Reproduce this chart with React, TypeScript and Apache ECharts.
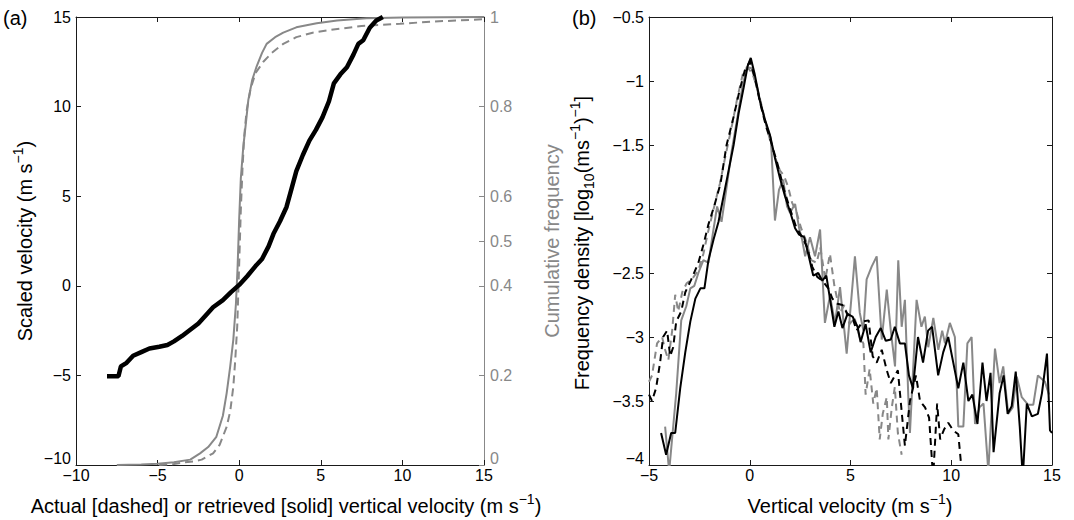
import React, { useEffect, useRef } from "react";
import * as echarts from "echarts";

// ---------- Panel (a) ----------
const aXTicks = [-10, -5, 0, 5, 10, 15];
const aLeftMin = -10;
const aLeftMax = 15;
const aRightTicks = [0, 0.2, 0.4, 0.5, 0.6, 0.8, 1];

// scaled velocity vs actual velocity (black, left axis)
const aScaled: [number, number][] = [
  [-8.1, -5.05], [-7.4, -5.05], [-7.25, -4.5], [-6.9, -4.3], [-6.5, -3.9], [-6.0, -3.7],
  [-5.5, -3.5], [-4.9, -3.4], [-4.4, -3.3], [-4.0, -3.1], [-3.5, -2.8], [-3.0, -2.45],
  [-2.5, -2.1], [-2.0, -1.6], [-1.6, -1.2], [-1.0, -0.8], [-0.5, -0.35], [0.0, 0.05],
  [0.5, 0.55], [1.0, 1.1], [1.4, 1.5], [1.8, 2.2], [2.1, 2.9], [2.5, 3.6], [2.9, 4.4],
  [3.2, 5.4], [3.5, 6.4], [3.9, 7.3], [4.3, 8.1], [4.7, 8.7], [5.1, 9.4], [5.5, 10.3],
  [5.8, 11.3], [6.2, 11.8], [6.6, 12.2], [7.0, 12.9], [7.3, 13.5], [7.6, 13.7],
  [8.0, 14.4], [8.4, 14.8], [8.8, 15.0],
];

// cumulative frequency, retrieved (gray solid, right axis)
const aCdfRetrieved: [number, number][] = [
  [-7.5, 0], [-6, 0.001], [-5, 0.003], [-4, 0.006], [-3, 0.012], [-2.4, 0.026],
  [-1.9, 0.04], [-1.4, 0.063], [-1.0, 0.11], [-0.77, 0.16], [-0.55, 0.22], [-0.36, 0.28],
  [-0.2, 0.36], [-0.1, 0.44], [0.0, 0.55], [0.1, 0.64], [0.25, 0.71], [0.4, 0.76],
  [0.56, 0.815], [0.8, 0.86], [1.07, 0.89], [1.4, 0.92], [1.68, 0.94], [2.2, 0.955],
  [2.7, 0.965], [3.5, 0.977], [4.75, 0.986], [6, 0.992], [7.8, 0.997], [10, 0.999], [15, 1.0],
];

// cumulative frequency, actual (gray dashed, right axis)
const aCdfActual: [number, number][] = [
  [-4.9, 0], [-4, 0.002], [-3.4, 0.006], [-2.8, 0.008], [-2.3, 0.012], [-1.6, 0.026],
  [-1.2, 0.045], [-0.77, 0.085], [-0.55, 0.12], [-0.36, 0.175], [-0.25, 0.23], [-0.12, 0.31],
  [0.0, 0.45], [0.1, 0.57], [0.2, 0.66], [0.3, 0.73], [0.45, 0.79], [0.7, 0.84], [1.0, 0.875],
  [1.48, 0.9], [2.0, 0.92], [2.7, 0.94], [3.5, 0.955], [4.5, 0.965], [5.77, 0.972],
  [7.5, 0.98], [9.85, 0.985], [12, 0.99], [15, 0.995],
];

// ---------- Panel (b) ----------
const bXTicks = [-5, 0, 5, 10, 15];
const bYMin = -4;
const bYMax = -0.5;

const bBlackSolid: [number, number][] = [
  [-4.4, -3.75], [-4.15, -3.92], [-3.9, -3.75], [-3.7, -3.75], [-3.45, -3.4], [-3.2, -3.12],
  [-2.95, -2.88], [-2.7, -2.7], [-2.45, -2.62], [-2.25, -2.62], [-2.05, -2.4], [-1.8, -2.24],
  [-1.55, -2.1], [-1.3, -1.9], [-1.05, -1.7], [-0.8, -1.5], [-0.55, -1.25], [-0.3, -1.05],
  [-0.1, -0.88], [0.05, -0.82], [0.25, -0.95], [0.5, -1.15], [0.75, -1.3], [1.0, -1.42],
  [1.25, -1.6], [1.5, -1.76], [1.75, -1.9], [2.0, -2.02], [2.25, -2.15], [2.45, -2.2],
  [2.7, -2.22], [2.9, -2.35], [3.15, -2.52], [3.4, -2.5], [3.6, -2.56], [3.8, -2.52],
  [4.0, -2.72], [4.2, -2.92], [4.4, -2.8], [4.6, -2.93], [4.85, -2.82], [5.1, -2.84],
  [5.35, -2.92], [5.5, -3.04], [5.75, -2.9], [6.0, -3.12], [6.25, -3.0], [6.5, -2.93],
  [6.75, -3.03], [7.0, -3.02], [7.2, -2.92], [7.45, -3.05], [7.7, -3.05], [7.9, -3.3],
  [8.1, -3.4], [8.35, -3.0], [8.6, -3.2], [8.85, -2.95], [9.05, -2.92], [9.35, -3.3],
  [9.6, -3.12], [9.85, -3.0], [10.1, -3.2], [10.35, -3.4], [10.6, -3.2], [10.85, -3.5],
  [11.05, -3.45], [11.3, -3.68], [11.55, -3.2], [11.75, -3.5], [11.95, -3.28], [12.1, -3.9],
  [12.4, -3.44], [12.6, -3.3], [12.8, -3.6], [13.0, -3.54], [13.2, -3.27], [13.4, -3.7],
  [13.55, -4.1], [13.75, -3.52], [14.0, -3.62], [14.3, -3.6], [14.5, -3.44], [14.75, -3.13],
  [14.9, -3.73], [15.0, -3.75],
];

const bBlackDashed: [number, number][] = [
  [-5, -3.45], [-4.85, -3.5], [-4.65, -3.4], [-4.45, -3.2], [-4.3, -3.0], [-4.1, -2.95],
  [-3.95, -3.15], [-3.8, -3.08], [-3.65, -2.88], [-3.4, -2.8], [-3.2, -2.65], [-2.9, -2.55],
  [-2.55, -2.42], [-2.3, -2.28], [-2.05, -2.12], [-1.75, -1.97], [-1.45, -1.8], [-1.15, -1.5],
  [-0.8, -1.28], [-0.5, -1.07], [-0.25, -0.92], [0.0, -0.85], [0.25, -0.97], [0.5, -1.16],
  [0.8, -1.35], [1.1, -1.5], [1.4, -1.66], [1.7, -1.85], [2.0, -2.0], [2.3, -2.14],
  [2.6, -2.22], [2.85, -2.3], [3.1, -2.45], [3.35, -2.53], [3.6, -2.56], [3.9, -2.62],
  [4.1, -2.7], [4.35, -2.74], [4.6, -2.75], [4.85, -2.82], [5.1, -2.85], [5.3, -2.95],
  [5.6, -2.88], [5.9, -2.87], [6.1, -3.15], [6.3, -3.2], [6.55, -3.1], [6.8, -3.26],
  [7.0, -3.36], [7.35, -3.26], [7.55, -3.6], [7.7, -3.85], [7.95, -3.5], [8.25, -3.3],
  [8.45, -3.5], [8.7, -3.55], [8.9, -3.63], [9.1, -4.1], [9.3, -3.52], [9.45, -3.8],
  [9.65, -3.72], [9.85, -3.67], [10.1, -3.73], [10.35, -3.76], [10.55, -4.1],
];

const bGraySolid: [number, number][] = [
  [-4.2, -3.7], [-4.0, -4.05], [-3.65, -3.44], [-3.4, -2.87], [-3.15, -2.76], [-2.95, -2.62],
  [-2.75, -2.6], [-2.55, -2.5], [-2.3, -2.4], [-2.05, -2.42], [-1.8, -2.16], [-1.62, -1.98],
  [-1.4, -2.1], [-1.15, -1.83], [-0.9, -1.55], [-0.65, -1.32], [-0.4, -1.08], [-0.15, -0.89],
  [0.1, -0.9], [0.35, -1.05], [0.6, -1.22], [0.85, -1.36], [1.05, -1.45], [1.25, -2.09],
  [1.45, -1.85], [1.66, -1.77], [1.85, -1.98], [2.0, -2.03], [2.25, -1.96], [2.45, -2.15],
  [2.6, -2.24], [2.75, -2.37], [2.99, -2.22], [3.24, -2.37], [3.49, -2.16], [3.73, -2.89],
  [3.98, -2.68], [4.23, -2.89], [4.48, -2.61], [4.81, -3.13], [5.22, -2.37], [5.46, -2.81],
  [5.64, -2.95], [5.8, -2.55], [6.05, -2.45], [6.3, -2.37], [6.55, -3.02], [6.8, -2.63],
  [7.0, -2.95], [7.21, -3.23], [7.37, -2.4], [7.54, -2.92], [7.7, -2.71], [7.87, -3.47],
  [7.95, -3.75], [8.28, -2.71], [8.52, -2.92], [8.69, -2.84], [8.86, -3.08], [9.11, -2.85],
  [9.36, -3.1], [9.55, -2.95], [9.69, -3.05], [9.93, -2.89], [10.18, -3.0], [10.35, -3.7],
  [10.6, -3.7], [10.8, -3.05], [11.01, -3.0], [11.18, -3.68], [11.4, -3.55], [11.6, -3.52],
  [11.84, -4.05], [12.17, -3.09], [12.4, -3.36], [12.58, -3.23], [12.83, -3.6], [13.05, -3.55],
  [13.25, -3.31], [13.5, -3.47], [13.82, -3.53], [14.07, -3.53], [14.3, -3.3], [14.65, -3.35],
  [14.85, -3.45],
];

const bGrayDashed: [number, number][] = [
  [-5, -3.35], [-4.85, -3.3], [-4.6, -3.05], [-4.35, -3.0], [-4.2, -3.1], [-4.04, -3.18],
  [-3.85, -2.95], [-3.7, -2.67], [-3.55, -2.8], [-3.35, -2.65], [-3.13, -2.58], [-2.88, -2.55],
  [-2.55, -2.48], [-2.3, -2.35], [-2.1, -2.2], [-1.81, -2.01], [-1.48, -1.8], [-1.2, -1.58],
  [-0.9, -1.36], [-0.6, -1.12], [-0.32, -0.93], [-0.07, -0.9], [0.15, -0.95], [0.35, -1.04],
  [0.6, -1.2], [0.84, -1.36], [1.17, -1.56], [1.5, -1.7], [1.7, -1.74], [1.91, -1.83],
  [2.1, -1.95], [2.33, -2.03], [2.55, -2.15], [2.8, -2.25], [3.05, -2.4], [3.32, -2.42],
  [3.5, -2.3], [3.75, -2.55], [3.98, -2.35], [4.2, -2.6], [4.48, -2.81], [4.7, -2.75],
  [4.95, -2.9], [5.2, -2.85], [5.45, -3.0], [5.64, -3.05], [5.75, -3.45], [5.95, -3.25],
  [6.13, -3.52], [6.3, -3.4], [6.45, -3.8], [6.6, -3.6], [6.8, -3.47], [6.88, -3.8],
  [7.05, -3.55], [7.2, -3.39], [7.35, -3.75], [7.54, -3.92],
];

const FONT = "'Liberation Sans', Arial, Helvetica, sans-serif";
const AXIS_COLOR = "#1a1a1a";
const GRAY = "#888888";
const TITLE_SIZE = 20;
const TICK_SIZE = 16;
const minus = (v: number) => String(v).replace("-", "\u2212");

const rich = {
  sup: { fontSize: 14, verticalAlign: "top" as const, fontFamily: FONT, lineHeight: 28 },
  sub: { fontSize: 14, verticalAlign: "bottom" as const, fontFamily: FONT, lineHeight: 28 },
};

function xAxisDef(gridIndex: number, min: number, max: number, position: "top" | "bottom", showLabel: boolean) {
  return {
    type: "value" as const,
    gridIndex,
    min,
    max,
    interval: 5,
    position,
    axisLine: { show: true, onZero: false, lineStyle: { color: AXIS_COLOR, width: 1 } },
    axisTick: { show: true, inside: true, length: 5, lineStyle: { color: AXIS_COLOR } },
    axisLabel: {
      show: showLabel,
      formatter: minus,
      color: "#000",
      fontSize: TICK_SIZE,
      fontFamily: FONT,
      margin: 2,
    },
    splitLine: { show: false },
  };
}

function titleText(x: number, y: number, text: string, rotate: boolean, fill = "#000") {
  return {
    type: "text",
    x,
    y,
    rotation: rotate ? Math.PI / 2 : 0,
    style: {
      text,
      rich,
      fontSize: TITLE_SIZE,
      lineHeight: 28,
      fontFamily: FONT,
      fill,
      align: "center",
      verticalAlign: "middle",
    },
  };
}

// bottom-most y tick labels, lifted slightly so they clear the x tick labels
function minLabel(x: number, y: number, text: string, align: "left" | "right", fill = "#000") {
  return {
    type: "text",
    x,
    y,
    style: { text, fontSize: TICK_SIZE, fontFamily: FONT, fill, align, verticalAlign: "bottom" },
  };
}

export default function App() {
  const ref = useRef<HTMLDivElement>(null);
  useEffect(() => {
    if (!ref.current) return;
    const chart = echarts.init(ref.current, undefined, { renderer: "svg" });
    const option: any = {
      animation: false,
      backgroundColor: "#ffffff",
      grid: [
        { left: 76, top: 17, width: 408, height: 448 },
        { left: 649, top: 17, width: 403, height: 448 },
      ],
      xAxis: [
        xAxisDef(0, aXTicks[0], aXTicks[aXTicks.length - 1], "bottom", true),
        xAxisDef(0, aXTicks[0], aXTicks[aXTicks.length - 1], "top", false),
        xAxisDef(1, bXTicks[0], bXTicks[bXTicks.length - 1], "bottom", true),
        xAxisDef(1, bXTicks[0], bXTicks[bXTicks.length - 1], "top", false),
      ],
      yAxis: [
        {
          type: "value",
          gridIndex: 0,
          min: aLeftMin,
          max: aLeftMax,
          interval: 5,
          position: "left",
          axisLine: { show: true, onZero: false, lineStyle: { color: AXIS_COLOR } },
          axisTick: { show: true, inside: true, length: 5, lineStyle: { color: AXIS_COLOR } },
          axisLabel: {
            formatter: minus,
            showMinLabel: false,
            color: "#000",
            fontSize: TICK_SIZE,
            fontFamily: FONT,
            margin: 5,
          },
          splitLine: { show: false },
        },
        {
          type: "value",
          gridIndex: 0,
          min: 0,
          max: 1,
          interval: 0.1,
          position: "right",
          axisLine: { show: true, onZero: false, lineStyle: { color: GRAY } },
          axisTick: {
            show: true,
            inside: true,
            length: 5,
            lineStyle: { color: GRAY },
            customValues: aRightTicks,
          },
          axisLabel: {
            customValues: aRightTicks.slice(1),
            formatter: (v: number) => String(v),
            color: GRAY,
            fontSize: TICK_SIZE,
            fontFamily: FONT,
            margin: 6,
          },
          splitLine: { show: false },
        },
        {
          type: "value",
          gridIndex: 1,
          min: bYMin,
          max: bYMax,
          interval: 0.5,
          position: "left",
          axisLine: { show: true, onZero: false, lineStyle: { color: AXIS_COLOR } },
          axisTick: { show: true, inside: true, length: 5, lineStyle: { color: AXIS_COLOR } },
          axisLabel: {
            formatter: minus,
            showMinLabel: false,
            color: "#000",
            fontSize: TICK_SIZE,
            fontFamily: FONT,
            margin: 5,
          },
          splitLine: { show: false },
        },
        {
          type: "value",
          gridIndex: 1,
          min: bYMin,
          max: bYMax,
          interval: 0.5,
          position: "right",
          axisLine: { show: true, onZero: false, lineStyle: { color: AXIS_COLOR } },
          axisTick: { show: true, inside: true, length: 5, lineStyle: { color: AXIS_COLOR } },
          axisLabel: { show: false },
          splitLine: { show: false },
        },
      ],
      series: [
        {
          type: "line",
          name: "CDF actual",
          xAxisIndex: 0,
          yAxisIndex: 1,
          data: aCdfActual,
          showSymbol: false,
          lineStyle: { color: GRAY, width: 2, type: [8, 5] },
        },
        {
          type: "line",
          name: "CDF retrieved",
          xAxisIndex: 0,
          yAxisIndex: 1,
          data: aCdfRetrieved,
          showSymbol: false,
          lineStyle: { color: GRAY, width: 2 },
        },
        {
          type: "line",
          name: "Scaled velocity",
          xAxisIndex: 0,
          yAxisIndex: 0,
          data: aScaled,
          showSymbol: false,
          lineStyle: { color: "#000", width: 4.5 },
        },
        {
          type: "line",
          name: "gray dashed",
          xAxisIndex: 2,
          yAxisIndex: 2,
          data: bGrayDashed,
          showSymbol: false,
          lineStyle: { color: GRAY, width: 2, type: [7, 5] },
        },
        {
          type: "line",
          name: "gray solid",
          xAxisIndex: 2,
          yAxisIndex: 2,
          data: bGraySolid,
          showSymbol: false,
          lineStyle: { color: GRAY, width: 2 },
        },
        {
          type: "line",
          name: "black dashed",
          xAxisIndex: 2,
          yAxisIndex: 2,
          data: bBlackDashed,
          showSymbol: false,
          lineStyle: { color: "#000", width: 2, type: [7, 5] },
        },
        {
          type: "line",
          name: "black solid",
          xAxisIndex: 2,
          yAxisIndex: 2,
          data: bBlackSolid,
          showSymbol: false,
          lineStyle: { color: "#000", width: 2 },
        },
      ],
      graphic: [
        {
          type: "text",
          x: 3,
          y: 18,
          style: { text: "(a)", fontSize: 20, fontFamily: FONT, fill: "#000", verticalAlign: "middle" },
        },
        {
          type: "text",
          x: 572,
          y: 18,
          style: { text: "(b)", fontSize: 20, fontFamily: FONT, fill: "#000", verticalAlign: "middle" },
        },
        minLabel(71, 466, minus(aLeftMin), "right"),
        minLabel(490, 466, String(aRightTicks[0]), "left", GRAY),
        minLabel(644, 466, minus(bYMin), "right"),
        titleText(286, 506, "Actual [dashed] or retrieved [solid] vertical velocity (m s{sup|\u22121})", false),
        titleText(850, 506, "Vertical velocity (m s{sup|\u22121})", false),
        titleText(25, 241, "Scaled velocity (m s{sup|\u22121})", true),
        titleText(552, 241, "Cumulative frequency", true, GRAY),
        titleText(582, 243, "Frequency density [log{sub|10}(ms{sup|\u22121}){sup|\u22121}]", true),
      ],
    };
    chart.setOption(option);
    return () => chart.dispose();
  }, []);
  return (
    <div
      ref={ref}
      style={{ position: "absolute", left: 0, top: 0, width: 1074, height: 520, background: "#fff" }}
    />
  );
}
